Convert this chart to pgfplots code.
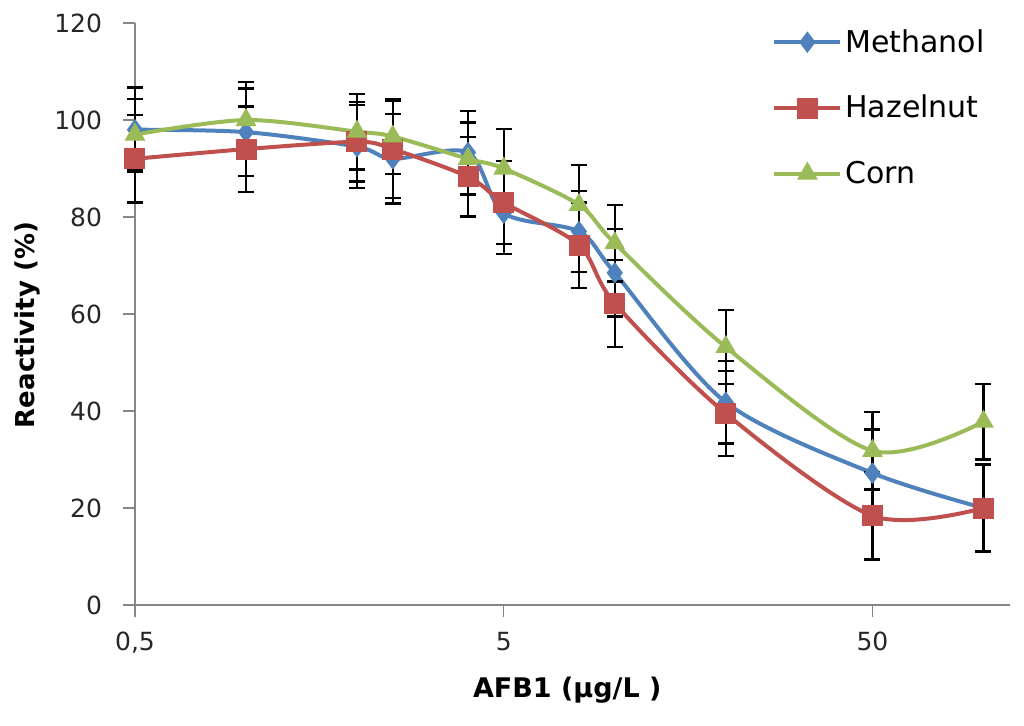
\documentclass[border=0pt]{standalone}
\usepackage{fontspec}
\setmainfont{DejaVu Sans}
\usepackage{pgfplots}
\usepackage{pgfplotstable}
\pgfplotsset{compat=1.18}
\definecolor{mblue}{HTML}{4F81BD}
\definecolor{mred}{HTML}{C0504D}
\definecolor{mgreen}{HTML}{9BBB59}
\definecolor{axisgray}{HTML}{868686}
\pgfplotstableread{
x y e
0.5 98 8.7
1 97.5 9
2 94.5 8.6
2.5 92 9.2
4 93.3 8.5
5 80.8 8.4
8 77 8.4
10 68.5 9
20 41.8 8.5
50 27.2 9
100 20 8.8
}\methanol
\pgfplotstableread{
x y e
0.5 92 9
1 94 8.8
2 95.5 8.2
2.5 94 10
4 88.3 8.2
5 83 8.6
8 74.2 8.8
10 62.2 9
20 39.5 8.8
50 18.4 9
100 20 9
}\hazelnut
\pgfplotstableread{
x y e
0.5 97 7.4
1 100 7.8
2 97.6 7.8
2.5 96.6 7.7
4 92 7.5
5 90 8.1
8 82.5 8.2
10 74.6 7.9
20 53.2 7.7
50 31.8 8
100 37.8 7.8
}\corn
\begin{document}
\begin{tikzpicture}
\path[use as bounding box] (-67.5pt,-60pt) rectangle (444.5pt,302.5pt);
\begin{axis}[
  at={(0,0)}, anchor=south west,
  scale only axis, width=437.5pt, height=291pt,
  xmode=log, xmin=0.5, xmax=118, ymin=0, ymax=120,
  ytick={0,20,...,120},
  xtick={0.5,5,50}, xticklabels={{0,5},5,50},
  xminorticks=false, yminorticks=false,
  axis x line=bottom, axis y line=left,
  axis line style={-, draw=axisgray, line width=0.75pt},
  tick style={draw=axisgray, line width=0.75pt},
  tick align=outside, major tick length=6pt,
  clip=false,
  /pgf/number format/assume math mode=true,
  ticklabel style={font=\fontsize{12.5}{14}\selectfont, text=black!85},
  yticklabel style={xshift=-7pt},
  xticklabel style={yshift=-4pt},
  xlabel={AFB1 (µg/L )},
  ylabel={Reactivity (\%)},
  xlabel style={at={(axis description cs:0.494,-0.146)}, anchor=center, font=\fontsize{13.5}{15}\selectfont\bfseries},
  ylabel style={at={(axis description cs:-0.1234,0.481)}, anchor=center, font=\fontsize{13}{15}\selectfont\bfseries},
  legend style={at={(0.728,0.995)}, anchor=north west, draw=none, fill=none,
    font=\fontsize{15}{18}\selectfont, row sep=17pt, inner sep=0pt,
    nodes={inner sep=1.5pt}},
  legend cell align=left,
  legend image code/.code={\draw[mark repeat=2, mark phase=2, #1] plot coordinates {(0pt,0pt) (16.5pt,0pt) (33pt,0pt)};},
  every axis plot/.append style={line width=2pt},
]
\addplot[smooth, color=mblue, mark=diamond*, mark size=5pt, mark options={solid, line width=0.5pt, fill=mblue},
  error bars/.cd, y dir=both, y explicit,
  error bar style={black, line width=1.1pt}, error mark options={rotate=90, black, line width=1.1pt, mark size=4pt}]
  table[x=x, y=y, y error=e] {\methanol};
\addlegendentry{Methanol}
\addplot[smooth, color=mred, mark=square*, mark size=5pt, mark options={solid, line width=0.5pt, fill=mred},
  error bars/.cd, y dir=both, y explicit,
  error bar style={black, line width=1.1pt}, error mark options={rotate=90, black, line width=1.1pt, mark size=4pt}]
  table[x=x, y=y, y error=e] {\hazelnut};
\addlegendentry{Hazelnut}
\addplot[smooth, color=mgreen, mark=triangle*, mark size=5.5pt, mark options={solid, line width=0.5pt, fill=mgreen},
  error bars/.cd, y dir=both, y explicit,
  error bar style={black, line width=1.1pt}, error mark options={rotate=90, black, line width=1.1pt, mark size=4pt}]
  table[x=x, y=y, y error=e] {\corn};
\addlegendentry{Corn}
\end{axis}
\end{tikzpicture}
\end{document}
